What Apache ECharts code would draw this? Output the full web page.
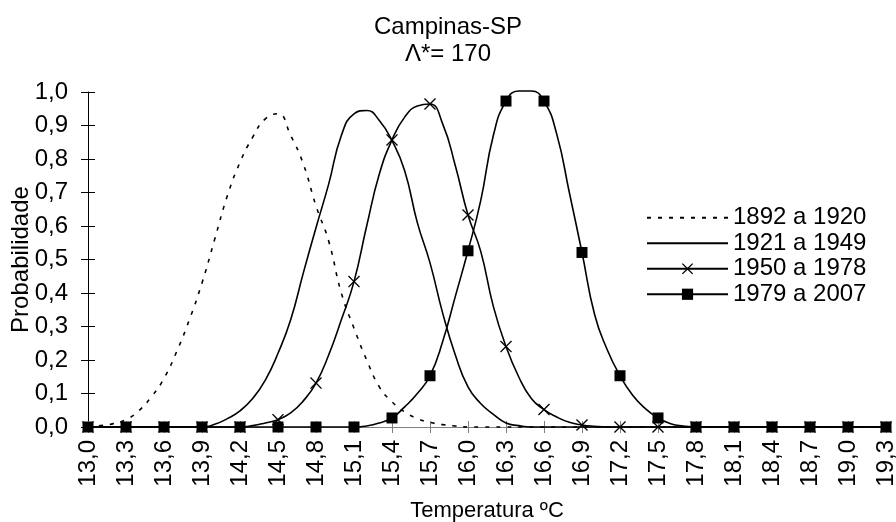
<!DOCTYPE html>
<html><head><meta charset="utf-8">
<script src="https://cdn.jsdelivr.net/npm/echarts@6/dist/echarts.min.js"></script>
<style>html,body{margin:0;padding:0;background:#fff}#c{width:896px;height:522px}</style>
</head><body><div id="c"></div>
<script>
// Temperature categories (0,1 °C steps); labels every 0,3 °C
const categories = [
  '13,0','13,1','13,2','13,3','13,4','13,5','13,6','13,7','13,8','13,9',
  '14,0','14,1','14,2','14,3','14,4','14,5','14,6','14,7','14,8','14,9',
  '15,0','15,1','15,2','15,3','15,4','15,5','15,6','15,7','15,8','15,9',
  '16,0','16,1','16,2','16,3','16,4','16,5','16,6','16,7','16,8','16,9',
  '17,0','17,1','17,2','17,3','17,4','17,5','17,6','17,7','17,8','17,9',
  '18,0','18,1','18,2','18,3','18,4','18,5','18,6','18,7','18,8','18,9',
  '19,0','19,1','19,2','19,3'
];
const seriesNames = ['1892 a 1920', '1921 a 1949', '1950 a 1978', '1979 a 2007'];
const s1892 = [
  0, 0.004, 0.010, 0.022, 0.048, 0.090, 0.145, 0.225, 0.320, 0.430,
  0.560, 0.690, 0.790, 0.865, 0.920, 0.935, 0.870, 0.785, 0.660, 0.555,
  0.400, 0.295, 0.200, 0.120, 0.075, 0.045, 0.025, 0.014, 0.007, 0.003,
  0, 0, 0, 0, 0, 0, 0, 0, 0, 0,
  0, 0, 0, 0, 0, 0, 0, 0, 0, 0,
  0, 0, 0, 0, 0, 0, 0, 0, 0, 0,
  0, 0, 0, 0
];
const s1921 = [
  0, 0, 0, 0, 0, 0, 0, 0, 0, 0,
  0.008, 0.025, 0.048, 0.085, 0.140, 0.220, 0.320, 0.460, 0.595, 0.725,
  0.870, 0.935, 0.945, 0.915, 0.855, 0.765, 0.610, 0.490, 0.340, 0.215,
  0.120, 0.070, 0.038, 0.012, 0.004, 0, 0, 0, 0, 0,
  0, 0, 0, 0, 0, 0, 0, 0, 0, 0,
  0, 0, 0, 0, 0, 0, 0, 0, 0, 0,
  0, 0, 0, 0
];
const s1950 = [
  0, 0, 0, 0, 0, 0, 0, 0, 0, 0,
  0, 0, 0, 0.004, 0.012, 0.022, 0.042, 0.078, 0.131, 0.215,
  0.320, 0.434, 0.600, 0.755, 0.857, 0.925, 0.958, 0.964, 0.905, 0.780,
  0.633, 0.525, 0.360, 0.240, 0.150, 0.085, 0.052, 0.030, 0.014, 0.006,
  0.002, 0, 0, 0, 0, 0, 0, 0, 0, 0,
  0, 0, 0, 0, 0, 0, 0, 0, 0, 0,
  0, 0, 0, 0
];
const s1979 = [
  0, 0, 0, 0, 0, 0, 0, 0, 0, 0,
  0, 0, 0, 0, 0, 0, 0, 0, 0, 0,
  0, 0, 0.003, 0.012, 0.027, 0.060, 0.100, 0.153, 0.255, 0.390,
  0.526, 0.675, 0.870, 0.973, 1.003, 1.003, 0.973, 0.875, 0.700, 0.521,
  0.335, 0.230, 0.153, 0.095, 0.055, 0.027, 0.010, 0.003, 0, 0,
  0, 0, 0, 0, 0, 0, 0, 0, 0, 0,
  0, 0, 0, 0
];
const markerStep = 3; // markers / labels every 0,3 °C

const FONT = '"Liberation Sans", Arial, sans-serif';
const crossPath = 'path://M0,0.8L0.8,0L5,4.2L9.2,0L10,0.8L5.8,5L10,9.2L9.2,10L5,5.8L0.8,10L0,9.2L4.2,5Z';
function withMarkers(values) {
  return values.map((v, i) => (i % markerStep === 0 ? v : { value: v, symbol: 'none' }));
}
const lineBase = { type: 'line', smooth: 0.5, clip: false, showAllSymbol: true,
  emphasis: { disabled: true }, itemStyle: { color: '#000' } };

const chart = echarts.init(document.getElementById('c'), null, { renderer: 'canvas' });
chart.setOption({
  animation: false,
  backgroundColor: '#fff',
  title: {
    text: 'Campinas-SP\nΛ*= 170', left: 'center', top: 14, padding: 0,
    textStyle: { fontFamily: FONT, fontSize: 24, fontWeight: 'normal', color: '#000', lineHeight: 27 }
  },
  legend: {
    orient: 'vertical', left: 646, top: 205, padding: 0,
    itemWidth: 81, itemHeight: 14, itemGap: 0, itemTextGap: 7,
    selectedMode: false,
    textStyle: { fontFamily: FONT, fontSize: 24, color: '#000', lineHeight: 25.5 },
    data: [
      { name: seriesNames[0], itemStyle: { opacity: 0 } },
      { name: seriesNames[1], itemStyle: { opacity: 0 } },
      { name: seriesNames[2] },
      { name: seriesNames[3] }
    ]
  },
  grid: { left: 88, right: 10, top: 92, bottom: 95, containLabel: false, outerBoundsMode: 'none' },
  xAxis: [{
    type: 'category', data: categories, boundaryGap: false,
    axisLine: { show: true, onZero: true, lineStyle: { color: '#808080', width: 1 } },
    axisTick: { show: true, interval: markerStep - 1, length: 6, lineStyle: { color: '#808080' } },
    axisLabel: { interval: markerStep - 1, rotate: 90, margin: 13, fontFamily: FONT, fontSize: 24, color: '#000' },
    splitLine: { show: false },
    name: 'Temperatura ºC', nameLocation: 'middle', nameGap: 73, nameMoveOverlap: false,
    nameTextStyle: { fontFamily: FONT, fontSize: 22, color: '#000' }
  }, {
    type: 'category', data: categories, boundaryGap: false, position: 'bottom',
    axisLine: { show: false },
    axisTick: { show: true, inside: true, interval: markerStep - 1, length: 6, lineStyle: { color: '#808080' } },
    axisLabel: { show: false }, splitLine: { show: false }
  }],
  yAxis: [{
    type: 'value', min: 0, max: 1, interval: 0.1, position: 'left',
    axisLine: { show: true, lineStyle: { color: '#000', width: 1 } },
    axisTick: { show: true, length: 7, lineStyle: { color: '#000' } },
    axisLabel: { formatter: v => v.toFixed(1).replace('.', ','), margin: 20, fontFamily: FONT, fontSize: 24, color: '#000' },
    splitLine: { show: false },
    name: 'Probabilidade', nameLocation: 'middle', nameGap: 55, nameRotate: 90, nameMoveOverlap: false,
    nameTextStyle: { fontFamily: FONT, fontSize: 24, color: '#000' }
  }, {
    type: 'value', min: 0, max: 1, interval: 0.1, position: 'left', offset: 0,
    axisLine: { show: false },
    axisTick: { show: true, inside: true, length: 7, lineStyle: { color: '#000' } },
    axisLabel: { show: false }, splitLine: { show: false }
  }],
  series: [
    Object.assign({}, lineBase, { name: seriesNames[0], data: s1892, symbol: 'none',
      lineStyle: { color: '#000', width: 1.6, type: [4, 7] } }),
    Object.assign({}, lineBase, { name: seriesNames[1], data: s1921, symbol: 'none',
      lineStyle: { color: '#000', width: 1.6 } }),
    Object.assign({}, lineBase, { name: seriesNames[2], data: withMarkers(s1950), symbol: crossPath, symbolSize: 12,
      lineStyle: { color: '#000', width: 1.6 } }),
    Object.assign({}, lineBase, { name: seriesNames[3], data: withMarkers(s1979), symbol: 'rect', symbolSize: 11,
      lineStyle: { color: '#000', width: 1.6 } })
  ]
});
</script>
</body></html>
